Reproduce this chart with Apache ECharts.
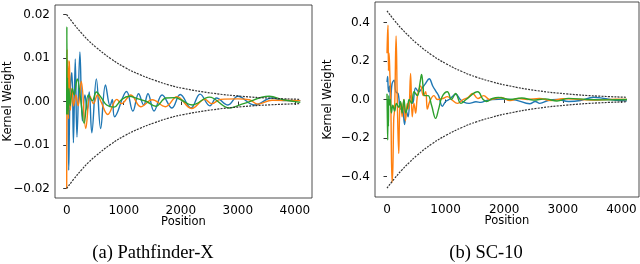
<!DOCTYPE html>
<html><head><meta charset="utf-8">
<script src="https://cdn.jsdelivr.net/npm/echarts@6/dist/echarts.min.js"></script>
<style>html,body{margin:0;padding:0;background:#fff}#c{width:640px;height:264px}</style>
</head><body><div id="c"></div>
<script>
// ---------- shared ----------
const xTicks = [0, 1000, 2000, 3000, 4000];
const envPos = [0,128,256,384,512,768,1024,1280,1536,1792,2048,2560,3072,3584,4095];

// ---------- (a) Pathfinder-X ----------
const yTicksA = [-0.02, -0.01, 0, 0.01, 0.02];
const yLabelsA = ['\u22120.02', '\u22120.01', '0.00', '0.01', '0.02'];
const envUpperA = [0.0200,0.0178,0.0158,0.0140,0.0125,0.0099,0.0078,0.0062,0.0049,0.0038,0.0030,0.0019,0.0012,0.00075,0.0005];
const envLowerA = [-0.0200,-0.0178,-0.0158,-0.0140,-0.0125,-0.0099,-0.0078,-0.0062,-0.0049,-0.0038,-0.0030,-0.0019,-0.0012,-0.00075,-0.0005];

const blueAPos = [0,18,35,60,92,118,150,180,232,275,320,360,395,440,520,595,680,760,800,840,1050,1160,1260,1350,1425,1530,1673,1846,1990,2180,2337,2510,2625,2827,3000,3290,3600,3800,4095];
const blueAVal = [0,0.006,-0.0158,0.002,0.0066,-0.0095,0.0098,-0.0082,0.0114,-0.0045,0.0015,-0.002,0.0022,-0.0072,0.0052,-0.0062,0.0038,-0.001,0.0005,-0.0035,0.0023,-0.0022,0.0018,-0.0008,0.0018,-0.0022,0.0015,-0.0015,0.0016,-0.0015,0.0017,-0.001,0.0008,-0.0008,0.0012,-0.0008,0.0008,0.0002,0.0002];

const orangeAPos = [0,6,12,22,32,48,65,90,120,160,200,255,335,410,470,540,600,720,880,960,1125,1298,1500,1730,1933,2190,2423,2540,2700,3000,3200,3350,3600,4095];
const orangeAVal = [-0.02,0.012,-0.003,0.0095,-0.004,0.0093,-0.002,0.003,-0.001,0.0015,-0.001,0.0046,-0.0062,0.0012,-0.0005,0.0015,0,-0.003,0.0005,-0.0005,0.0015,-0.0012,0.0004,-0.0012,0.0011,-0.0016,0.0005,-0.0005,0.0005,0.0006,0.0004,-0.0006,0.0003,0.0002];

const greenAPos = [0,3,7,14,24,40,60,100,130,185,240,305,380,450,520,600,700,830,950,1090,1250,1400,1560,1740,1900,2000,2200,2500,2850,3100,3550,3800,4095];
const greenAVal = [-0.003,0.0172,-0.002,0.0055,-0.003,0.003,-0.001,0.003,0.0015,0.0052,0.001,-0.005,0.0015,0.0002,0.0022,0.001,-0.0008,-0.0013,0.0003,0.0012,0.0006,0,-0.0011,0.0008,0.0009,0.0004,-0.0008,0.001,-0.0015,-0.0005,0.0012,0.0004,-0.0002];

// ---------- (b) SC-10 ----------
const yTicksB = [-0.4, -0.2, 0, 0.2, 0.4];
const yLabelsB = ['\u22120.4', '\u22120.2', '0.0', '0.2', '0.4'];
const envUpperB = [0.460,0.410,0.365,0.326,0.290,0.230,0.183,0.145,0.115,0.092,0.073,0.046,0.029,0.018,0.0115];
const envLowerB = [-0.460,-0.410,-0.365,-0.326,-0.290,-0.230,-0.183,-0.145,-0.115,-0.092,-0.073,-0.046,-0.029,-0.018,-0.0115];

const blueBPos = [0,10,20,30,45,60,85,120,150,190,230,260,300,330,360,400,440,487,540,600,650,720,780,840,880,945,1000,1060,1175,1250,1320,1400,1518,1600,1700,1800,2000,2200,2435,2530,2607,2750,2900,3100,3300,3524,3700,3900,4095];
const blueBVal = [0.09,0.12,0.06,0.04,0.07,-0.02,0.08,0.1,0.04,0.03,-0.05,-0.04,-0.13,-0.06,-0.09,0.02,-0.02,0.06,0.04,0.06,0.08,0.108,0.07,0.04,0.02,-0.035,-0.01,0,0.027,0,-0.015,-0.02,-0.012,-0.015,-0.005,0,0.002,-0.003,-0.022,-0.01,-0.02,-0.005,0,-0.01,-0.005,0.012,0.005,-0.004,-0.007];

const orangeBPos = [0,8,17,25,35,50,64,86,100,115,130,155,175,200,218,240,258,287,315,345,370,402,430,460,488,520,574,620,660,688,730,800,860,950,1030,1100,1203,1300,1380,1461,1550,1650,1750,1850,1950,2100,2250,2400,2600,2800,3000,3300,3600,3900,4095];
const orangeBVal = [0.24,0.33,0.386,0.15,0.24,0.12,0,-0.43,-0.35,-0.1,-0.05,0.33,0,-0.28,-0.05,-0.02,-0.09,0,-0.11,-0.02,-0.05,0.135,-0.09,-0.02,-0.07,0.02,0.07,0.02,0.04,-0.05,-0.01,0.02,0,0.005,0.015,0,-0.02,0,0.01,0.031,0.005,0.02,0,0.005,0.01,-0.005,0.005,0,0.005,-0.005,0.004,0,-0.003,0.002,0];

const greenBPos = [0,6,12,18,24,30,40,55,75,100,130,160,200,230,258,290,320,350,380,420,460,520,560,590,615,640,700,760,830,880,940,1030,1100,1170,1260,1350,1547,1640,1700,1800,1900,2100,2300,2500,2700,2900,3100,3400,3700,4095];
const greenBVal = [0.03,-0.1,-0.21,0,-0.14,0.02,-0.03,0,-0.07,-0.03,-0.06,-0.02,-0.04,-0.01,-0.07,0,-0.07,-0.04,0,-0.02,0.04,0.02,0.08,0.13,0.07,0.02,0.02,-0.03,-0.098,-0.05,0.014,0.04,0,0.031,-0.02,0,0.04,0,-0.01,0.005,0.01,0,0.008,-0.003,0.003,-0.008,0.006,0,-0.002,0];

// ---------- build ----------
const pairs = (p, v) => p.map((x, i) => [x, v[i]]);
const FONT = 'DejaVu Sans';
const COLORS = ['#1f77b4', '#ff7f0e', '#2ca02c'];

function xAxis(gi) {
  return {
    type: 'value', gridIndex: gi, min: -205, max: 4300,
    name: 'Position', nameLocation: 'middle', nameGap: 18.5, nameMoveOverlap: false,
    nameTextStyle: { fontFamily: FONT, fontSize: 11.5, color: '#000', verticalAlign: 'top' },
    axisLine: { show: false },
    splitLine: { show: false },
    axisTick: { show: true, inside: false, length: 3.5, customValues: xTicks, lineStyle: { color: '#000', width: 0.8 } },
    axisLabel: { customValues: xTicks, fontFamily: FONT, fontSize: 12, color: '#000', margin: 7, formatter: v => String(v) }
  };
}
function yAxis(gi, lo, hi, ticks, labels) {
  return {
    type: 'value', gridIndex: gi, min: lo, max: hi,
    name: 'Kernel Weight', nameLocation: 'middle', nameGap: 41, nameRotate: 90, nameMoveOverlap: false,
    nameTextStyle: { fontFamily: FONT, fontSize: 11.5, color: '#000' },
    axisLine: { show: false },
    splitLine: { show: false },
    axisTick: { show: true, inside: false, length: 3.5, customValues: ticks, lineStyle: { color: '#000', width: 0.8 } },
    axisLabel: { customValues: ticks, fontFamily: FONT, fontSize: 12, color: '#000', margin: 5,
      formatter: v => { const i = ticks.findIndex(t => Math.abs(t - v) < 1e-9); return i >= 0 ? labels[i] : ''; } }
  };
}
function lineSeries(gi, data, color) {
  return { type: 'line', xAxisIndex: gi, yAxisIndex: gi, data, symbol: 'none', smooth: 0.4,
    lineStyle: { color, width: 1.4 }, silent: true, animation: false };
}
function envSeries(gi, data) {
  return { type: 'line', xAxisIndex: gi, yAxisIndex: gi, data, symbol: 'none', smooth: 0.5,
    lineStyle: { color: '#333', width: 1.2, type: [2, 1.2] }, silent: true, animation: false, z: 3 };
}

const chart = echarts.init(document.getElementById('c'), null, { renderer: 'canvas' });
chart.setOption({
  backgroundColor: '#fff',
  animation: false,
  grid: [
    { left: 55, top: 5, width: 257, height: 193, show: true, borderColor: '#222', borderWidth: 0.8, backgroundColor: 'transparent' },
    { left: 375, top: 2, width: 264, height: 195, show: true, borderColor: '#222', borderWidth: 0.8, backgroundColor: 'transparent' }
  ],
  xAxis: [xAxis(0), xAxis(1)],
  yAxis: [yAxis(0, -0.0222, 0.0222, yTicksA, yLabelsA), yAxis(1, -0.506, 0.506, yTicksB, yLabelsB)],
  series: [
    lineSeries(0, pairs(blueAPos, blueAVal), COLORS[0]),
    lineSeries(0, pairs(orangeAPos, orangeAVal), COLORS[1]),
    lineSeries(0, pairs(greenAPos, greenAVal), COLORS[2]),
    envSeries(0, pairs(envPos, envUpperA)),
    envSeries(0, pairs(envPos, envLowerA)),
    lineSeries(1, pairs(blueBPos, blueBVal), COLORS[0]),
    lineSeries(1, pairs(orangeBPos, orangeBVal), COLORS[1]),
    lineSeries(1, pairs(greenBPos, greenBVal), COLORS[2]),
    envSeries(1, pairs(envPos, envUpperB)),
    envSeries(1, pairs(envPos, envLowerB))
  ],
  graphic: [
    { type: 'text', x: 153, y: 253, style: { text: '(a) Pathfinder-X', fontFamily: 'Liberation Serif', fontSize: 18.5, fill: '#000', align: 'center', verticalAlign: 'middle' } },
    { type: 'text', x: 486, y: 253, style: { text: '(b) SC-10', fontFamily: 'Liberation Serif', fontSize: 18.5, fill: '#000', align: 'center', verticalAlign: 'middle' } }
  ]
});
</script>
</body></html>
